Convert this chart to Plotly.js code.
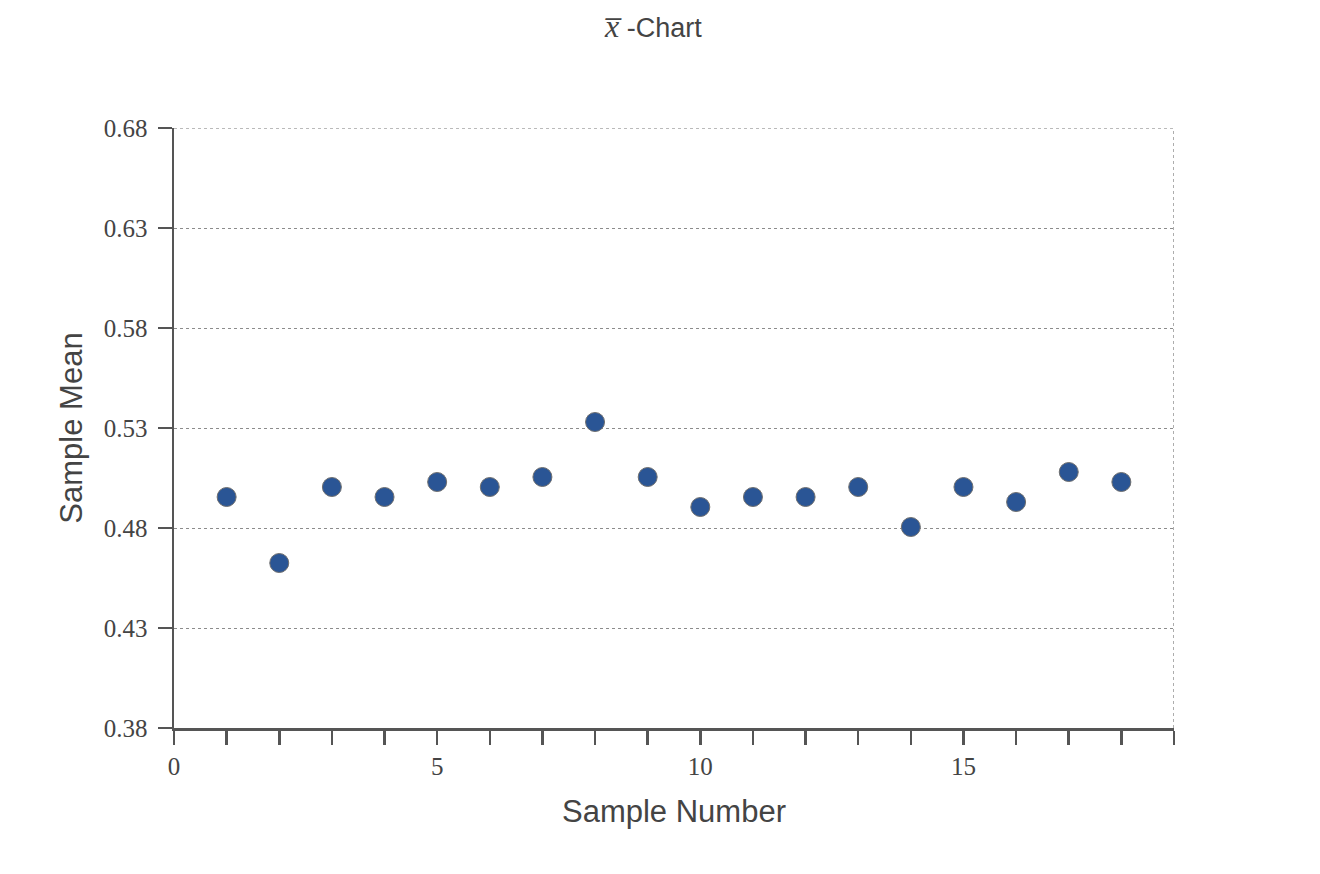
<!DOCTYPE html>
<html>
<head>
<meta charset="utf-8">
<script src="https://cdn.plot.ly/plotly-3.0.1.min.js"></script>
<style>html,body{margin:0;padding:0;background:#fff;}#chart{width:1320px;height:874px;}</style>
</head>
<body>
<div id="chart"></div>
<script>
const sampleNumbers = [1,2,3,4,5,6,7,8,9,10,11,12,13,14,15,16,17,18];
const sampleMeans = [0.4955,0.4625,0.5005,0.4955,0.503,0.5005,0.5055,0.533,0.5055,0.4905,0.4955,0.4955,0.5005,0.4805,0.5005,0.493,0.508,0.503];
const xTickVals = [0,1,2,3,4,5,6,7,8,9,10,11,12,13,14,15,16,17,18,19];
const xTickText = ['0','','','','','5','','','','','10','','','','','15','','','',''];
const yTickVals = [0.38,0.43,0.48,0.53,0.58,0.63,0.68];
const yTickText = ['0.38','0.43','0.48','0.53','0.58','0.63','0.68'];
const xRange = [0,19];
const yRange = [0.38,0.68];

const serif = "'Liberation Serif', 'Times New Roman', serif";
const sans = "'Liberation Sans', Arial, sans-serif";

const trace = {
  x: sampleNumbers, y: sampleMeans, type: 'scatter', mode: 'markers',
  marker: {size: 19, color: '#2a5595', line: {color: '#6f6f6f', width: 1}},
  hoverinfo: 'x+y', cliponaxis: false
};

const layout = {
  width: 1320, height: 874,
  margin: {l: 174, r: 146, t: 128, b: 146},
  paper_bgcolor: '#fff', plot_bgcolor: '#fff',
  showlegend: false,
  title: {
    text: "<span style=\"font-family:'Liberation Serif';font-style:italic;font-size:32px\">x̅</span> -Chart",
    font: {family: sans, size: 27, color: '#444'},
    x: 0.495, xref: 'container', yref: 'container', y: 0.969, yanchor: 'middle'
  },
  xaxis: {
    range: xRange, tickmode: 'array', tickvals: xTickVals, ticktext: xTickText,
    showgrid: false, zeroline: false,
    showline: true, linecolor: '#555', linewidth: 2.5,
    ticks: 'outside', ticklen: 14, tickwidth: 2.5, tickcolor: '#555',
    tickfont: {family: serif, size: 25, color: '#444'},
    title: {text: 'Sample Number', font: {family: sans, size: 31, color: '#444'}, standoff: 22}
  },
  yaxis: {
    range: yRange, tickmode: 'array', tickvals: yTickVals, ticktext: yTickText,
    showgrid: true, gridcolor: '#8c8c8c', griddash: 'dot', gridwidth: 1,
    zeroline: false,
    showline: true, linecolor: '#555', linewidth: 2.5,
    ticks: 'outside', ticklen: 14, tickwidth: 2.5, tickcolor: '#555',
    ticklabelstandoff: 5,
    tickfont: {family: serif, size: 25, color: '#444'},
    title: {text: 'Sample Mean', font: {family: sans, size: 31, color: '#444'}, standoff: 12}
  },
  shapes: [
    {type: 'line', xref: 'x', yref: 'y', x0: xRange[1], x1: xRange[1], y0: yRange[0], y1: yRange[1],
     line: {color: '#777', width: 1.2, dash: 'dot'}, layer: 'below'},
    {type: 'line', xref: 'x', yref: 'y', x0: xRange[0], x1: xRange[1], y0: yRange[1], y1: yRange[1],
     line: {color: '#777', width: 1.2, dash: 'dot'}, layer: 'below'}
  ]
};

Plotly.newPlot('chart', [trace], layout, {displayModeBar: false, staticPlot: true});
</script>
</body>
</html>
